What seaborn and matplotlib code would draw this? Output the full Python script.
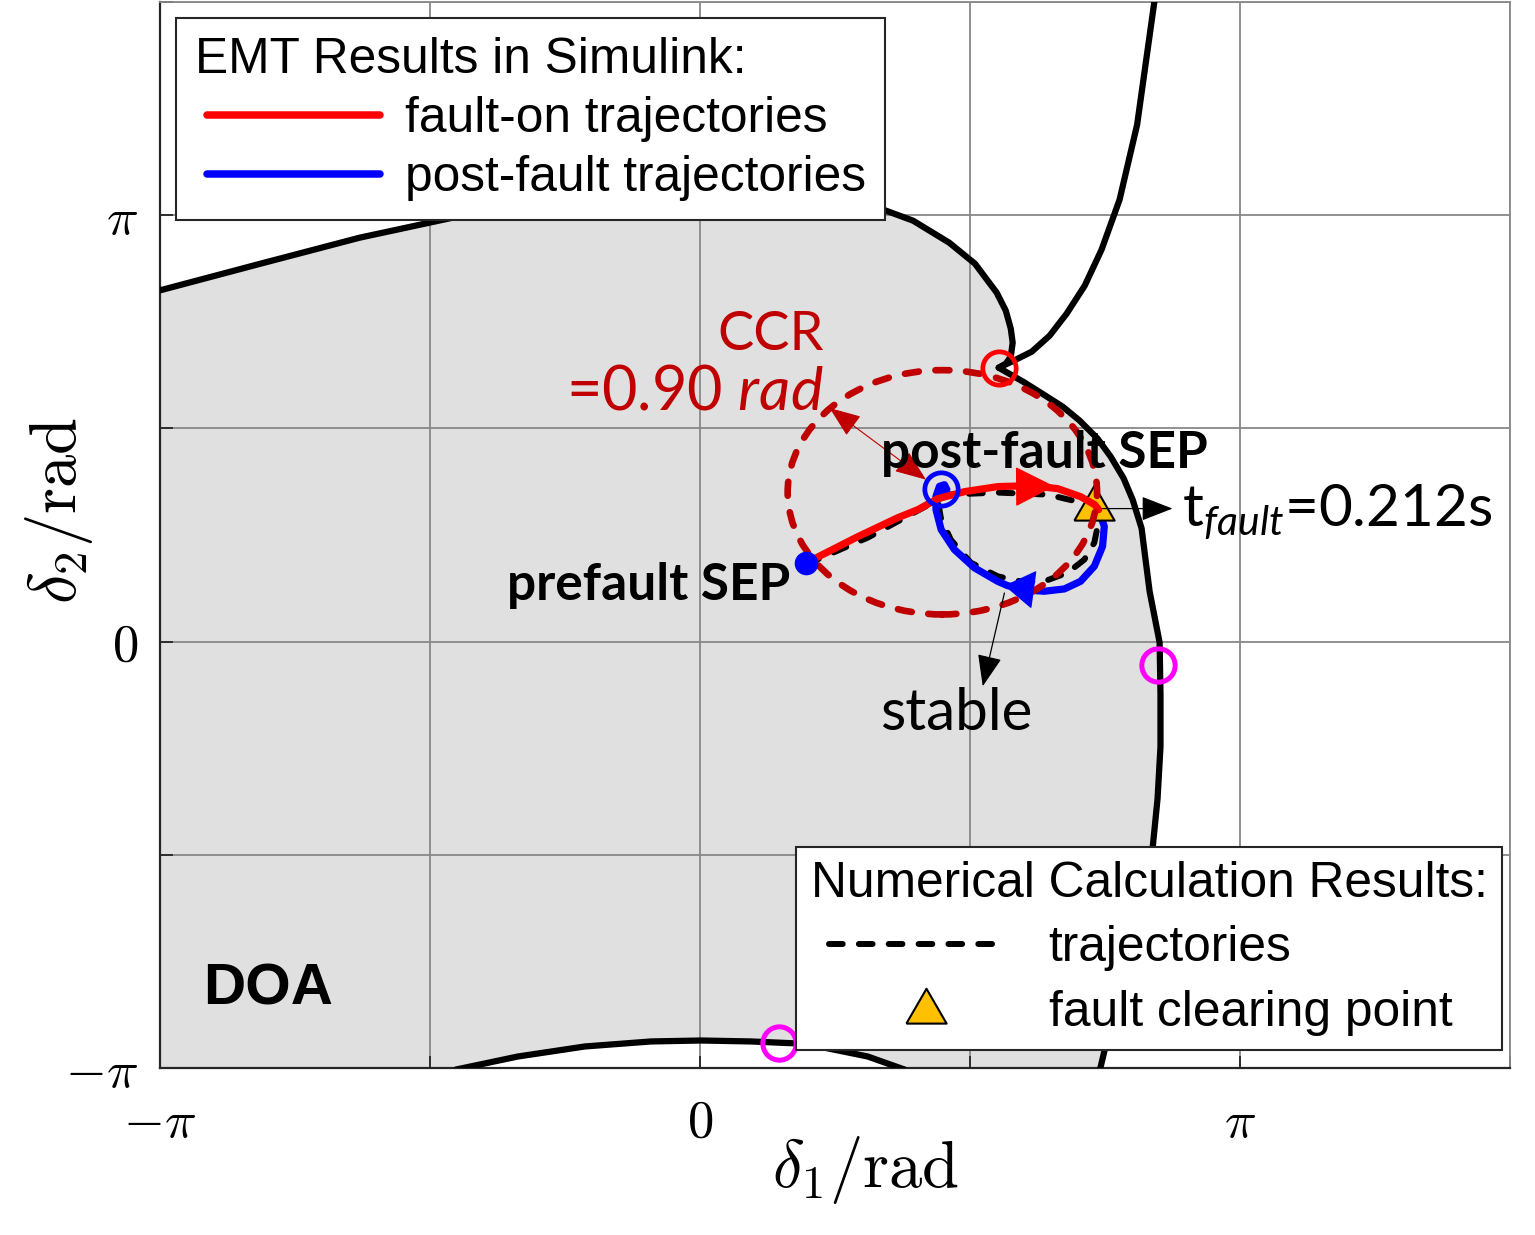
import numpy as np
import matplotlib
matplotlib.use("Agg")
import matplotlib.pyplot as plt
import seaborn as sns
from matplotlib.lines import Line2D
from matplotlib.patches import Circle
from matplotlib.legend_handler import HandlerLine2D

PI = np.pi

# ---------------- data (radians) ----------------
# DOA boundary: upper-left branch ending at the controlling UEP
bndA_x = [-3.15, -2.57, -1.98, -1.44, -0.88, -0.30, 0.28, 0.69, 1.02, 1.24, 1.45, 1.60, 1.726,
          1.779, 1.808, 1.819, 1.808, 1.779, 1.738]
bndA_y = [2.585, 2.78, 2.976, 3.123, 3.234, 3.307, 3.315, 3.278, 3.204, 3.101, 2.939, 2.784, 2.571,
          2.438, 2.306, 2.202, 2.099, 2.048, 2.018]
# branch leaving the UEP upwards (outside DOA)
bndB_x = [1.738, 1.829, 1.930, 2.034, 2.133, 2.238, 2.336, 2.441, 2.543, 2.645]
bndB_y = [2.018, 2.072, 2.136, 2.254, 2.416, 2.622, 2.887, 3.256, 3.808, 4.729]
# right branch of the DOA boundary
bndC_x = [1.738, 1.880, 1.982, 2.110, 2.209, 2.313, 2.389, 2.464, 2.517, 2.569, 2.592, 2.616, 2.674,
          2.679, 2.679, 2.662, 2.633, 2.575, 2.50, 2.42, 2.355, 2.32]
bndC_y = [2.018, 1.915, 1.834, 1.731, 1.628, 1.495, 1.363, 1.204, 1.046, 0.835, 0.604, 0.368, -0.007,
          -0.39, -0.773, -1.156, -1.525, -1.90, -2.342, -2.711, -3.005, -3.19]
# bottom arc
bndD_x = [-1.42, -1.06, -0.67, -0.285, 0.006, 0.296, 0.57, 0.69, 0.976, 1.19]
bndD_y = [-3.153, -3.057, -2.983, -2.946, -2.939, -2.946, -2.961, -2.983, -3.057, -3.153]

# EMT fault-on trajectory (red)
fault_x = [0.618, 0.918, 1.151, 1.267, 1.383, 1.540, 1.732, 1.924, 2.081, 2.214, 2.296, 2.319]
fault_y = [0.580, 0.773, 0.913, 0.972, 1.053, 1.105, 1.142, 1.149, 1.127, 1.068, 1.009, 0.972]
# EMT post-fault trajectory (blue)
post_x = [2.319, 2.352, 2.342, 2.294, 2.214, 2.120, 2.003, 1.924, 1.790, 1.732, 1.597, 1.480,
          1.403, 1.373, 1.373, 1.393, 1.422, 1.436, 1.418]
post_y = [0.972, 0.849, 0.702, 0.555, 0.444, 0.388, 0.371, 0.378, 0.412, 0.444, 0.543, 0.678,
          0.825, 0.972, 1.070, 1.144, 1.156, 1.120, 1.090]
# numerical trajectory (black dashed)
num_x = [0.618, 0.976, 1.267, 1.441, 1.732, 2.023, 2.197, 2.290, 2.313, 2.294, 2.236, 2.139, 2.003,
         1.866, 1.732, 1.575, 1.459, 1.401, 1.383, 1.401]
num_y = [0.570, 0.766, 0.965, 1.083, 1.098, 1.083, 1.031, 0.972, 0.847, 0.729, 0.604, 0.508, 0.444,
         0.444, 0.481, 0.582, 0.751, 0.913, 1.046, 1.105]

prefault_sep = (0.618, 0.580)
postfault_sep = (1.402, 1.125)
ccr_center = (1.41, 1.10)
ccr = 0.90
uep = (1.738, 2.018)
other_uep_x = [2.662, 0.459]
other_uep_y = [-0.169, -2.954]
clear_pt = (2.290, 1.005)

tick_vals = [-PI, -PI / 2, 0, PI / 2, PI, 1.5 * PI]
tick_labels = [r"$-\pi$", "", r"$0$", "", r"$\pi$", ""]

# ---------------- style ----------------
sns.set_theme(style="white")
plt.rcParams["font.family"] = ["Lato", "DejaVu Sans"]
plt.rcParams["text.color"] = "black"
plt.rcParams["axes.labelcolor"] = "black"
plt.rcParams["xtick.color"] = "black"
plt.rcParams["ytick.color"] = "black"
plt.rcParams["mathtext.fontset"] = "cm"
plt.rcParams["mathtext.rm"] = "Lato"
plt.rcParams["mathtext.it"] = "Lato:italic"
plt.rcParams["mathtext.bf"] = "Lato:bold"

fig = plt.figure(figsize=(15.35, 12.35), dpi=100)
ax = fig.add_axes([160 / 1535, 167 / 1235, 1350 / 1535, 1066 / 1235])
ax.set_xlim(-PI, 1.5 * PI)
ax.set_ylim(-PI, 1.5 * PI)
ax.set_facecolor("white")

# DOA shading
poly_x = bndA_x + bndC_x[1:] + bndD_x[::-1] + [-3.3, -3.3]
poly_y = bndA_y + bndC_y[1:] + bndD_y[::-1] + [-3.3, bndA_y[0]]
ax.fill(poly_x, poly_y, color="#e0e0e0", lw=0, zorder=0.2)

ax.set_axisbelow(True)
ax.grid(True, color="#888888", lw=1.3)
ax.set_xticks(tick_vals)
ax.set_yticks(tick_vals)
ax.set_xticklabels(tick_labels)
ax.set_yticklabels(tick_labels)
ax.tick_params(axis="both", direction="in", length=9, width=1.3, colors="#262626",
               labelcolor="black", labelsize=38, left=True, bottom=True)
ax.tick_params(axis="x", pad=22)
ax.tick_params(axis="y", pad=16)
for s in ["left", "bottom"]:
    ax.spines[s].set_color("#262626")
    ax.spines[s].set_linewidth(1.6)
for s in ["top", "right"]:
    ax.spines[s].set_color("#888888")
    ax.spines[s].set_linewidth(1.3)

def curve(x, y, **kw):
    sns.lineplot(x=x, y=y, sort=False, estimator=None, errorbar=None, ax=ax, legend=False, **kw)

# boundaries
for bx, by in [(bndA_x, bndA_y), (bndB_x, bndB_y), (bndC_x, bndC_y), (bndD_x, bndD_y)]:
    curve(bx, by, color="black", linewidth=4.5, zorder=3, solid_capstyle="round", solid_joinstyle="round")

# trajectories
curve(num_x, num_y, color="black", linewidth=4.3, linestyle=(0, (2.3, 2.7)), dash_capstyle="round", zorder=4)
curve(post_x, post_y, color="#0000ff", linewidth=5.2, zorder=5, solid_capstyle="round", solid_joinstyle="round")
curve(fault_x, fault_y, color="#ff0000", linewidth=5.2, zorder=5.5, solid_capstyle="round", solid_joinstyle="round")

# CCR circle
ax.add_patch(Circle(ccr_center, ccr, fill=False, edgecolor="#c00000", lw=4.8,
                    linestyle=(0, (2.1, 2.5)), capstyle="round", zorder=6))

# markers
tri = [(-1, -0.75), (1, -0.75), (0, 0.98), (-1, -0.75)]
ax.plot(*clear_pt, marker=tri, ms=29, mfc="#ffc000", mec="black", mew=1.5, ls="none", zorder=5.2)
ax.plot(*prefault_sep, "o", ms=16, color="#0000ff", zorder=6.5)
ax.plot(*postfault_sep, "o", ms=24, mfc="none", mec="#0000ff", mew=3.4, zorder=7)
ax.plot(*uep, "o", ms=24, mfc="none", mec="#ff0000", mew=3.4, zorder=7)
ax.plot(other_uep_x, other_uep_y, "o", ms=24, mfc="none", mec="#ff00ff", mew=3.6, ls="none", zorder=7)

# direction arrows
ax.annotate("", xy=(2.062, 1.144), xytext=(1.85, 1.142),
            arrowprops=dict(arrowstyle="-|>,head_length=0.65,head_width=0.33", mutation_scale=40,
                            color="#ff0000", lw=1, shrinkA=0, shrinkB=0), zorder=8)
ax.annotate("", xy=(1.771, 0.412), xytext=(1.94, 0.383),
            arrowprops=dict(arrowstyle="-|>,head_length=0.5,head_width=0.32", mutation_scale=40,
                            color="#0000ff", lw=1, shrinkA=0, shrinkB=0), zorder=8)
# CCR radius arrow
ax.annotate("", xy=(0.754, 1.721), xytext=(1.315, 1.193),
            arrowprops=dict(arrowstyle="<|-|>,head_length=0.9,head_width=0.35", mutation_scale=22,
                            color="#c00000", lw=0.8, shrinkA=0, shrinkB=0), zorder=8)
# stable arrow
ax.annotate("", xy=(1.645, -0.329), xytext=(1.771, 0.358),
            arrowprops=dict(arrowstyle="-|>,head_length=0.9,head_width=0.35", mutation_scale=22,
                            color="black", lw=0.9, shrinkA=0, shrinkB=0), zorder=8)
# t_fault arrow
ax.annotate("", xy=(2.749, 0.98), xytext=(2.342, 0.98),
            arrowprops=dict(arrowstyle="-|>,head_length=0.9,head_width=0.35", mutation_scale=22,
                            color="black", lw=0.9, shrinkA=0, shrinkB=0), zorder=8)

# texts
ax.text(0.72, 2.148, "CCR", color="#c00000", fontsize=39, ha="right", va="baseline", zorder=9)
ax.text(0.72, 1.709, r"=0.90 $\mathit{rad}$", color="#c00000", fontsize=44, ha="right",
        va="baseline", math_fontfamily="custom", zorder=9)
ax.text(2.005, 1.282, "post-fault SEP", fontsize=37, fontweight="bold", ha="center", va="baseline", zorder=9)
ax.text(0.525, 0.309, "prefault SEP", fontsize=37, fontweight="bold", ha="right", va="baseline", zorder=9)
ax.text(1.488, -0.648, "stable", fontsize=42, ha="center", va="baseline", zorder=9)
ax.text(2.807, 0.862, r"t$_{\mathit{fault}}$=0.212s", fontsize=42, ha="left", va="baseline",
        math_fontfamily="custom", zorder=9)
ax.text(-2.889, -2.674, "DOA", fontsize=42, fontweight="bold", family="Liberation Sans",
        ha="left", va="baseline", zorder=9)

# axis labels
ax.set_xlabel(r"$\delta_1/\mathrm{rad}$", fontsize=48, color="black")
ax.set_ylabel(r"$\delta_2/\mathrm{rad}$", fontsize=48, color="black")
ax.xaxis.set_label_coords(0.523, -0.062)
ax.yaxis.set_label_coords(-0.048, 0.523)

# legends
leg_font = dict(family="Liberation Sans", size=35.7)
h1 = [Line2D([], [], color="#ff0000", lw=5.4, solid_capstyle="round"),
      Line2D([], [], color="#0000ff", lw=5.4, solid_capstyle="round")]
leg1 = ax.legend(h1, ["fault-on trajectories", "post-fault trajectories"],
                 title="EMT Results in Simulink:", prop=leg_font, title_fontproperties=leg_font,
                 loc="upper left", bbox_to_anchor=(0.0119, 0.985), borderaxespad=0,
                 alignment="left", handlelength=3.72, handletextpad=0.5, labelspacing=0.26,
                 borderpad=0.39, fancybox=False, framealpha=1, edgecolor="#262626",
                 handler_map={Line2D: HandlerLine2D(xpad=0.226)})
leg1.get_frame().set_linewidth(1.5)
leg1.set_zorder(20)
ax.add_artist(leg1)

h2 = [Line2D([], [], color="black", lw=4.3, linestyle=(0, (2.3, 2.7)), dash_capstyle="round"),
      Line2D([], [], marker=tri, ms=29, mfc="#ffc000", mec="black", mew=1.5, ls="none")]
leg2 = ax.legend(h2, ["trajectories", "fault clearing point"],
                 title="Numerical Calculation Results:", prop=leg_font, title_fontproperties=leg_font,
                 loc="lower right", bbox_to_anchor=(0.994, 0.0169), borderaxespad=0,
                 alignment="left", handlelength=3.85, handletextpad=0.95, labelspacing=0.37,
                 borderpad=0.29, fancybox=False, framealpha=1, edgecolor="#262626",
                 handler_map={h2[0]: HandlerLine2D(xpad=0.38), h2[1]: HandlerLine2D(xpad=0.8)})
leg2.get_frame().set_linewidth(1.5)
leg2.set_zorder(20)

fig.savefig("out.png", dpi=100)
